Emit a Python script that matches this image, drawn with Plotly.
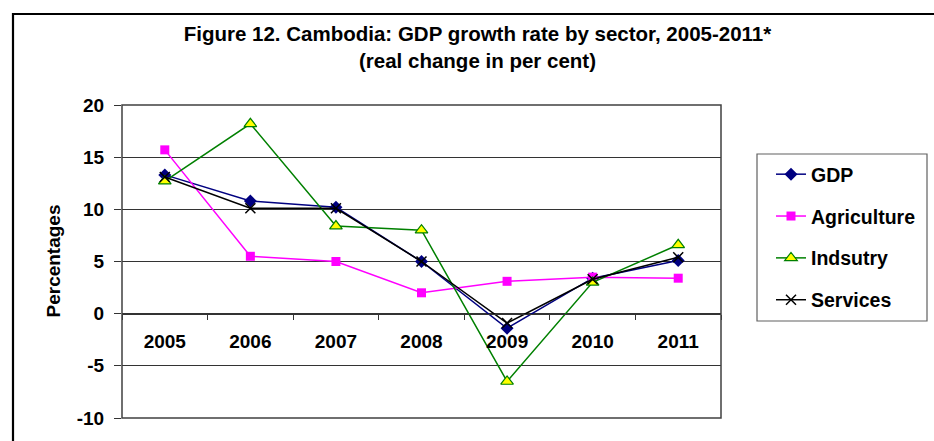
import plotly.graph_objects as go

years = ["2005", "2006", "2007", "2008", "2009", "2010", "2011"]
gdp = [13.3, 10.8, 10.2, 5.0, -1.4, 3.4, 5.1]
agriculture = [15.7, 5.5, 5.0, 2.0, 3.1, 3.5, 3.4]
industry = [12.7, 18.2, 8.4, 8.0, -6.5, 3.0, 6.6]
services = [13.1, 10.1, 10.1, 5.0, -0.9, 3.3, 5.4]

y_ticks = [-10, -5, 0, 5, 10, 15, 20]

FONT = "Liberation Sans, Arial, sans-serif"

W, H = 934, 441
L, R, T, B = 122, 721, 105, 418  # plot area in px


def px_x(p):
    return (p - L) / (R - L)


def px_y(p):
    return (B - p) / (B - T)


fig = go.Figure()
fig.add_trace(go.Scatter(
    x=years, y=gdp, name="GDP", mode="lines+markers", legendgroup="a",
    line=dict(color="#000080", width=1.5),
    marker=dict(symbol="diamond", size=10, color="#000080")))
fig.add_trace(go.Scatter(
    x=years, y=agriculture, name="Agriculture", mode="lines+markers", legendgroup="b",
    line=dict(color="#FF00FF", width=1.5),
    marker=dict(symbol="square", size=9, color="#FF00FF")))
fig.add_trace(go.Scatter(
    x=years, y=industry, name="Indsutry", mode="lines+markers", legendgroup="c",
    line=dict(color="#008000", width=1.5),
    marker=dict(symbol="triangle-up", size=11, color="#FFFF00",
                line=dict(color="#008000", width=1.2))))
fig.add_trace(go.Scatter(
    x=years, y=services, name="Services", mode="lines+markers", legendgroup="d",
    line=dict(color="#000000", width=1.5),
    marker=dict(symbol="x-thin", size=10, color="#000000",
                line=dict(color="#000000", width=1.5))))

fig.update_layout(
    width=W, height=H,
    margin=dict(l=L, r=W - R, t=T, b=H - B, pad=0),
    paper_bgcolor="white", plot_bgcolor="white",
    font=dict(family=FONT, size=18, color="black", weight="bold"),
    title=dict(
        text="Figure 12. Cambodia: GDP growth rate by sector, 2005-2011*<br>(real change in per cent)",
        x=477.5 / W, xref="container", xanchor="center",
        y=1 - 41 / H, yref="container", yanchor="top",
        font=dict(family=FONT, size=20.5, color="black", weight="bold")),
    showlegend=True,
    legend=dict(
        x=px_x(771), y=px_y(155), xanchor="left", yanchor="top",
        bgcolor="rgba(0,0,0,0)", borderwidth=0,
        font=dict(family=FONT, size=19.5, color="black", weight="bold"),
        tracegroupgap=13.5, itemwidth=30),
    xaxis=dict(
        type="category", range=[-0.5, 6.5],
        anchor="free", position=1 / 3,
        showline=True, linecolor="#333333", linewidth=1,
        ticks="outside", tickson="boundaries", ticklen=5, tickcolor="#333333",
        showgrid=False, zeroline=False,
        tickfont=dict(family=FONT, size=19, color="black", weight="bold"),
        ticklabelstandoff=11),
    yaxis=dict(
        range=[-10, 20], tickvals=y_ticks, ticktext=[str(v) for v in y_ticks],
        showgrid=True, gridcolor="#333333", gridwidth=1,
        zeroline=True, zerolinecolor="#333333", zerolinewidth=1,
        showline=False,
        ticks="outside", ticklen=7, tickcolor="#333333",
        tickfont=dict(family=FONT, size=19, color="black", weight="bold"),
        ticklabelstandoff=6),
    annotations=[dict(
        text="Percentages", textangle=-90, showarrow=False,
        xref="paper", yref="paper", x=px_x(53), y=0.5,
        xanchor="center", yanchor="middle",
        font=dict(family=FONT, size=19, color="black", weight="bold"))],
    shapes=[
        # plot area border
        dict(type="rect", xref="x domain", yref="y domain", x0=0, x1=1, y0=0, y1=1,
             line=dict(color="#404040", width=1.5), layer="above"),
        # legend box
        dict(type="rect", xref="paper", yref="paper",
             x0=px_x(757), x1=px_x(927), y0=px_y(321), y1=px_y(154),
             line=dict(color="#606060", width=1.2)),
        # outer chart border
        dict(type="rect", xref="paper", yref="paper",
             x0=px_x(13), x1=px_x(960), y0=px_y(470), y1=px_y(14),
             line=dict(color="black", width=2.2)),
    ],
)

fig.write_html("out.html", config={"displayModeBar": False},
               post_script="document.body.style.margin='0';document.body.style.overflow='hidden';")
